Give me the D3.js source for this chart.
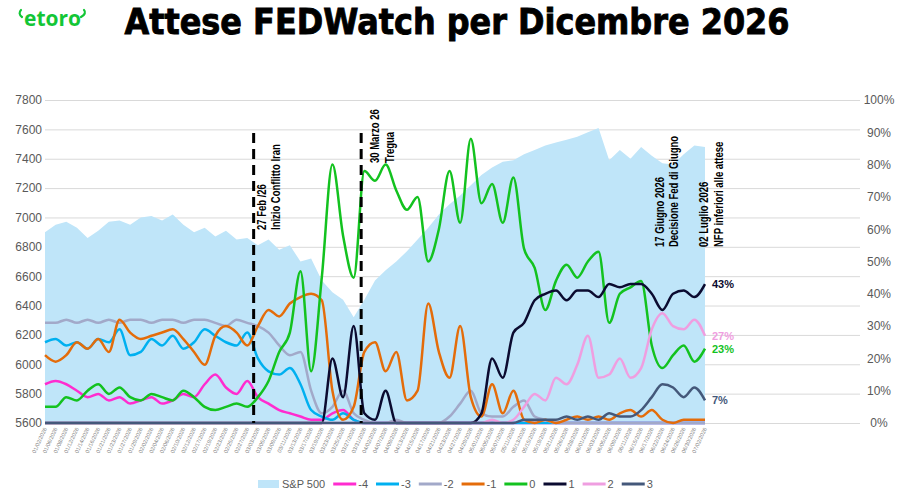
<!DOCTYPE html>
<html>
<head>
<meta charset="utf-8">
<script src="https://cdn.jsdelivr.net/npm/d3@7"></script>
<style>
  body { margin: 0; background: #fff; }
  svg { display: block; font-family: "Liberation Sans", Arial, sans-serif; }
</style>
</head>
<body>
<div id="chart"></div>
<script>
const width = 900;
const height = 495;

// x categories (every second trading day)
const dates = [
  "01/02/2026","01/06/2026","01/08/2026","01/12/2026","01/14/2026","01/16/2026","01/21/2026","01/23/2026","01/27/2026","01/29/2026",
  "02/02/2026","02/04/2026","02/06/2026","02/10/2026","02/12/2026","02/17/2026","02/19/2026","02/23/2026","02/25/2026","02/27/2026",
  "03/03/2026","03/05/2026","03/09/2026","03/11/2026","03/13/2026","03/17/2026","03/19/2026","03/23/2026","03/25/2026","03/27/2026","03/31/2026",
  "04/02/2026","04/07/2026","04/09/2026","04/13/2026","04/15/2026","04/17/2026","04/21/2026","04/23/2026","04/27/2026","04/29/2026",
  "05/01/2026","05/05/2026","05/07/2026","05/11/2026","05/13/2026","05/15/2026","05/19/2026","05/21/2026","05/26/2026","05/28/2026",
  "06/01/2026","06/03/2026","06/05/2026","06/09/2026","06/11/2026","06/15/2026","06/17/2026","06/22/2026","06/24/2026","06/26/2026","06/30/2026",
  "07/02/2026"
];

// S&P 500 (left axis)
const sp500 = [
  6900,6950,6970,6930,6860,6910,6970,6980,6950,7000,
  7010,6980,7020,6950,6900,6930,6870,6910,6850,6860,
  6810,6850,6780,6810,6700,6720,6570,6490,6440,6320,6440,
  6570,6640,6700,6770,6850,6930,7020,7090,7150,7220,
  7290,7340,7380,7390,7430,7460,7490,7510,7530,7550,
  7580,7610,7390,7460,7400,7480,7420,7370,7360,7430,7490,
  7480
];

// FedWatch probabilities in % (right axis), by number of cuts
const cutM4 = [
  12,13,12,10,8,9,7,8,6,7,
  8,6,7,9,8,12,15,11,9,13,
  8,6,4,3,2,1,1,3,4,1,0,
  0,0,0,0,0,0,0,0,0,0,
  0,0,0,0,0,0,0,0,0,0,
  0,0,0,0,0,0,0,0,0,0,0,
  0
];
const cutM3 = [
  25,26,24,25,23,26,25,29,21,22,
  26,24,27,23,25,29,27,25,24,28,
  20,16,15,17,12,4,2,1,3,1,0,
  0,0,0,0,0,0,0,0,0,0,
  0,0,0,0,0,0,0,0,0,0,
  0,0,0,0,0,0,0,0,0,0,0,
  0
];
const cutM2 = [
  31,31,32,31,32,31,32,31,32,32,
  31,32,32,31,32,32,31,30,32,31,
  30,28,24,21,22,10,3,5,10,3,1,
  0,0,1,0,0,0,0,2,6,10,
  3,2,2,5,7,2,1,0,0,0,
  0,0,0,0,0,0,0,0,0,0,0,
  0
];
const cutM1 = [
  21,19,21,25,23,26,22,32,28,26,
  27,28,29,26,22,18,27,30,28,24,
  30,35,33,37,39,40,38,10,1,5,22,
  25,16,22,7,10,37,22,14,30,8,
  2,12,3,10,1,0,1,0,1,2,
  1,2,1,3,4,2,4,1,0,1,1,
  1
];
const cut0 = [
  5,5,8,7,10,12,9,11,8,7,
  9,8,7,10,8,5,4,5,6,5,
  8,13,22,28,47,16,45,80,58,45,78,
  75,80,72,66,70,50,60,78,62,88,
  68,74,62,76,54,48,35,44,49,45,
  50,53,31,40,42,44,24,17,21,24,19,
  23
];
const cutP1 = [
  0,0,0,0,0,0,0,0,0,0,
  0,0,0,0,0,0,0,0,0,0,
  0,0,0,0,0,0,0,20,8,30,3,
  1,10,0,0,0,0,0,0,0,0,
  3,20,14,28,31,38,40,41,38,41,
  41,39,43,42,43,43,40,35,40,41,39,
  43
];
const cutP2 = [
  0,0,0,0,0,0,0,0,0,0,
  0,0,0,0,0,0,0,0,0,0,
  0,0,0,0,0,0,0,0,0,0,0,
  0,0,0,0,0,0,0,0,0,0,
  0,1,0,1,5,9,7,14,12,18,
  27,14,15,20,14,17,29,34,30,29,32,
  27
];
const cutP3 = [
  0,0,0,0,0,0,0,0,0,0,
  0,0,0,0,0,0,0,0,0,0,
  0,0,0,0,0,0,0,0,0,0,0,
  0,0,0,0,0,0,0,0,0,0,
  0,0,0,0,1,1,1,1,2,1,
  2,1,3,2,2,4,8,12,11,8,11,
  7
];

const leftTicks = [5600,5800,6000,6200,6400,6600,6800,7000,7200,7400,7600,7800];
const rightTicks = [0,10,20,30,40,50,60,70,80,90,100];

const series = [
  { name: "-4", values: cutM4, color: "#ff2ccf" },
  { name: "-3", values: cutM3, color: "#00b0f0" },
  { name: "-2", values: cutM2, color: "#a2a9c9" },
  { name: "-1", values: cutM1, color: "#e46c0a" },
  { name: "0",  values: cut0,  color: "#13c21f", label: true },
  { name: "1",  values: cutP1, color: "#0b0b30", label: true },
  { name: "2",  values: cutP2, color: "#ef9ee0", label: true },
  { name: "3",  values: cutP3, color: "#44587a", label: true }
];

// event annotations (position as fractional category index)
const events = [
  { at: 19.6, dx: 12, lines: ["27 Feb /26", "Inizio Conflitto Iran"], base: 230, dash: true },
  { at: 29.7, dx: 18, lines: ["30 Marzo 26", "Tregua"], base: 163, dash: true },
  { at: 57.3, dx: 9, lines: ["17 Giugno 2026", "Decisione Fed di Giugno"], base: 247, dash: false },
  { at: 62, dx: 3, lines: ["02 Luglio 2026", "NFP inferiori alle attese"], base: 247, dash: false }
];

const svg = d3.select('#chart').append('svg')
  .attr('width', width)
  .attr('height', height);

const plotLeft = 45, plotRight = 860, plotTop = 100, plotBottom = 423;

const x = d3.scalePoint().domain(dates).range([45, 705]);
const xAt = i => x(dates[0]) + i * x.step();
const yLeft = d3.scaleLinear().domain([5600, 7800]).range([plotBottom, plotTop]);
const yRight = d3.scaleLinear().domain([0, 100]).range([plotBottom, plotTop]);

// gridlines
svg.append('g')
  .attr('transform', `translate(${plotLeft},0)`)
  .call(d3.axisLeft(yLeft).tickValues(leftTicks).tickSize(-(plotRight - plotLeft)).tickFormat(''))
  .call(g => g.select('.domain').remove())
  .call(g => g.selectAll('line').attr('stroke', '#d9d9d9').attr('stroke-width', 1));

// S&P 500 area
const area = d3.area()
  .x((d, i) => x(dates[i]))
  .y0(yLeft(5600))
  .y1(d => yLeft(d));

svg.append('path')
  .datum(sp500)
  .attr('fill', '#bfe5f9')
  .attr('d', area);

// probability lines
const line = d3.line()
  .x((d, i) => x(dates[i]))
  .y(d => yRight(d))
  .curve(d3.curveMonotoneX);

series.forEach(s => {
  svg.append('path')
    .datum(s.values)
    .attr('fill', 'none')
    .attr('stroke', s.color)
    .attr('stroke-width', 2.5)
    .attr('stroke-linejoin', 'round')
    .attr('d', line);
});

// left axis
svg.append('g')
  .attr('transform', `translate(42,0)`)
  .call(d3.axisLeft(yLeft).tickValues(leftTicks).tickSize(0).tickPadding(0).tickFormat(d3.format('d')))
  .call(g => g.select('.domain').remove())
  .selectAll('text')
  .attr('font-size', '12px')
  .attr('font-family', '"Liberation Sans", Arial, sans-serif')
  .attr('fill', '#595959');

// right axis
svg.append('g')
  .attr('transform', `translate(879,0)`)
  .call(d3.axisRight(yRight).tickValues(rightTicks).tickSize(0).tickPadding(0).tickFormat(d => d + '%'))
  .call(g => g.select('.domain').remove())
  .selectAll('text')
  .attr('text-anchor', 'middle')
  .attr('x', 0)
  .attr('font-size', '12px')
  .attr('font-family', '"Liberation Sans", Arial, sans-serif')
  .attr('fill', '#595959');

// x axis (tiny rotated dates)
svg.append('g')
  .attr('transform', `translate(0,${plotBottom + 5})`)
  .call(d3.axisBottom(x).tickSize(0).tickPadding(0))
  .call(g => g.select('.domain').remove())
  .selectAll('text')
  .attr('font-size', '5.5px')
  .attr('font-family', '"Liberation Sans", Arial, sans-serif')
  .attr('fill', '#808080')
  .attr('text-anchor', 'end')
  .attr('dy', '0.3em')
  .attr('transform', 'rotate(-65)');

// event markers
events.forEach(e => {
  const ex = xAt(e.at);
  if (e.dash) {
    svg.append('line')
      .attr('x1', ex).attr('x2', ex)
      .attr('y1', 133).attr('y2', plotBottom)
      .attr('stroke', '#000')
      .attr('stroke-width', 3)
      .attr('stroke-dasharray', '10,6');
  }
  e.lines.forEach((t, k) => {
    const tx = ex + e.dx + k * 14.5;
    const txt = svg.append('text')
      .attr('transform', `translate(${tx},${e.base}) rotate(-90)`)
      .attr('font-size', '12px')
      .attr('font-weight', 'bold')
      .attr('font-family', '"Liberation Sans", sans-serif')
      .attr('fill', '#000')
      .text(t);
    // narrow like the original condensed face
    const len = txt.node().getComputedTextLength();
    txt.attr('textLength', len * 0.79).attr('lengthAdjust', 'spacingAndGlyphs');
  });
});

// end-of-line labels
series.filter(s => s.label).forEach(s => {
  const last = s.values[s.values.length - 1];
  svg.append('text')
    .attr('x', 712)
    .attr('y', yRight(last) + 4)
    .attr('font-size', '11px')
    .attr('font-weight', 'bold')
    .attr('fill', s.color)
    .text(last + '%');
});

// title
svg.append('text')
  .attr('x', 457)
  .attr('y', 34)
  .attr('text-anchor', 'middle')
  .attr('font-size', '35px')
  .attr('font-weight', 900)
  .attr('font-family', '"DejaVu Sans", sans-serif')
  .attr('textLength', 665)
  .attr('lengthAdjust', 'spacingAndGlyphs')
  .attr('fill', '#000')
  .attr('stroke', '#000')
  .attr('stroke-width', 0.9)
  .text('Attese FEDWatch per Dicembre 2026');

// logo
const logo = svg.append('g').attr('fill', 'none').attr('stroke', '#13c636').attr('stroke-width', 2.2).attr('stroke-linecap', 'round');
logo.append('path').attr('d', 'M22,17 C19,15 19,12 21,10');
logo.append('path').attr('d', 'M81,17 C85,15 86,12 84,10');
svg.append('text')
  .attr('x', 24)
  .attr('y', 26)
  .attr('font-size', '21px')
  .attr('font-weight', 'bold')
  .attr('font-family', '"Open Sans", sans-serif')
  .attr('fill', '#13c636')
  .attr('textLength', 57)
  .attr('lengthAdjust', 'spacingAndGlyphs')
  .text('etoro');

// legend
const legend = svg.append('g').attr('transform', 'translate(258,484)');
let lx = 0;
const legendItems = [{ name: 'S&P 500', color: '#bfe5f9', area: true }].concat(series);
legendItems.forEach(item => {
  if (item.area) {
    legend.append('rect').attr('x', lx).attr('y', -4).attr('width', 21).attr('height', 8).attr('fill', item.color);
    lx += 24;
  } else {
    legend.append('line').attr('x1', lx).attr('x2', lx + 23).attr('y1', 0).attr('y2', 0)
      .attr('stroke', item.color).attr('stroke-width', 3);
    lx += 25;
  }
  const t = legend.append('text')
    .attr('x', lx).attr('y', 4)
    .attr('font-size', '11px')
    .attr('fill', '#595959')
    .text(item.name);
  lx += t.node().getComputedTextLength() + 8;
});
</script>
</body>
</html>
